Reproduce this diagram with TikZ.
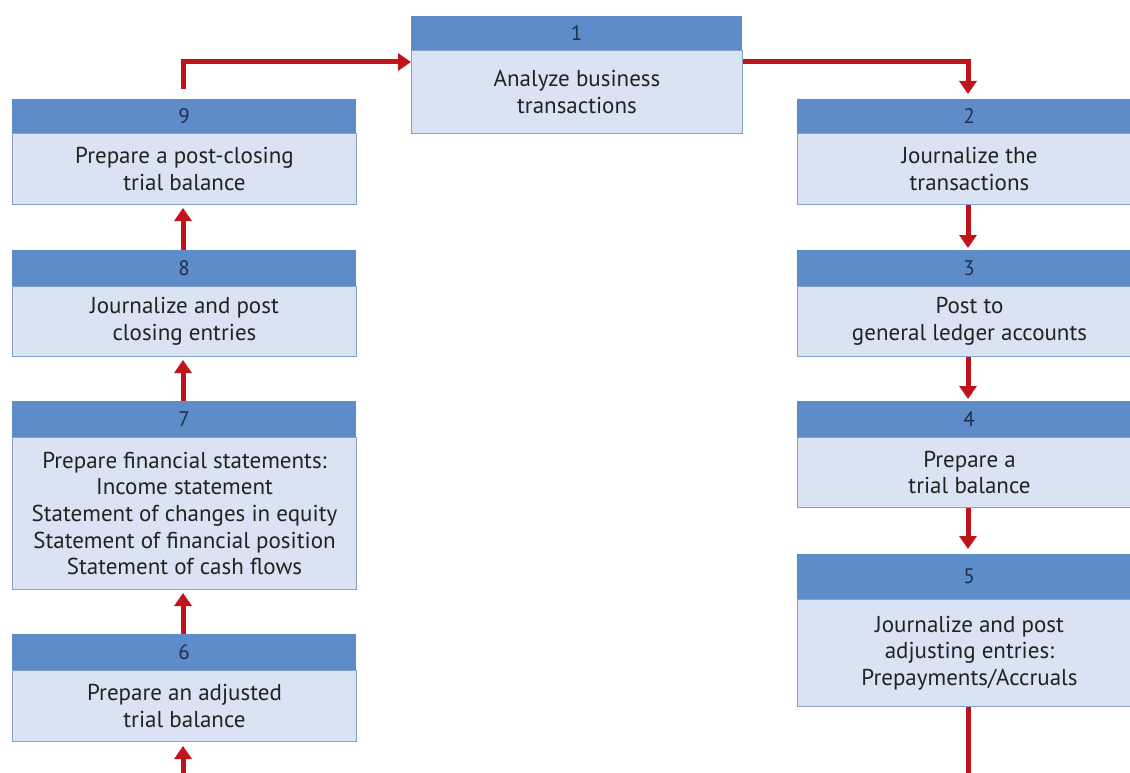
\documentclass[tikz,border=0pt]{standalone}
\usepackage{fontspec}
\setmainfont{PT Sans}
\usetikzlibrary{arrows.meta}
\definecolor{hdrblue}{HTML}{5D8CC8}
\definecolor{bodyblue}{HTML}{D9E3F3}
\definecolor{edgeblue}{HTML}{86A2CB}
\definecolor{numnavy}{HTML}{1E2F4F}
\definecolor{txt}{HTML}{222222}
\definecolor{arrred}{HTML}{C0141C}
\tikzset{
  hdr/.style={fill=hdrblue, draw=none, anchor=north west, inner sep=0pt,
    text=numnavy, font=\fontsize{21}{24}\selectfont},
  bodybox/.style={fill=bodyblue, draw=edgeblue, line width=1pt, anchor=north west,
    inner sep=0pt, align=center, text=txt, font=\fontsize{23}{26.6}\selectfont},
  flow/.style={draw=arrred, line width=5pt, -{Triangle[width=17pt,length=13pt]}}
}
\begin{document}
\begin{tikzpicture}[x=1pt,y=-1pt]
\clip (0,0) rectangle (1130,773);
\fill[white] (0,0) rectangle (1130,773);
% box 1
\node[hdr, minimum width=331pt, minimum height=34pt] (h1) at (411,16) {1};
\node[bodybox, minimum width=331pt, minimum height=83pt] (b1) at (411,50) {Analyze business\\transactions};
% box 9
\node[hdr, minimum width=344pt, minimum height=34pt] (h9) at (12,99) {9};
\node[bodybox, minimum width=344pt, minimum height=71pt] (b9) at (12,133) {Prepare a post-closing\\trial balance};
% box 8
\node[hdr, minimum width=344pt, minimum height=36pt] (h8) at (12,250) {8};
\node[bodybox, minimum width=344pt, minimum height=70pt] (b8) at (12,286) {Journalize and post\\closing entries};
% box 7
\node[hdr, minimum width=344pt, minimum height=36pt] (h7) at (12,401) {7};
\node[bodybox, minimum width=344pt, minimum height=152pt] (b7) at (12,437) {Prepare financial statements:\\Income statement\\Statement of changes in equity\\Statement of financial position\\Statement of cash flows};
% box 6
\node[hdr, minimum width=344pt, minimum height=36pt] (h6) at (12,634) {6};
\node[bodybox, minimum width=344pt, minimum height=71pt] (b6) at (12,670) {Prepare an adjusted\\trial balance};
% box 2
\node[hdr, minimum width=344pt, minimum height=34pt] (h2) at (797,99) {2};
\node[bodybox, minimum width=344pt, minimum height=71pt] (b2) at (797,133) {Journalize the\\transactions};
% box 3
\node[hdr, minimum width=344pt, minimum height=36pt] (h3) at (797,250) {3};
\node[bodybox, minimum width=344pt, minimum height=70pt] (b3) at (797,286) {Post to\\general ledger accounts};
% box 4
\node[hdr, minimum width=344pt, minimum height=36pt] (h4) at (797,401) {4};
\node[bodybox, minimum width=344pt, minimum height=70pt] (b4) at (797,437) {Prepare a\\trial balance};
% box 5
\node[hdr, minimum width=344pt, minimum height=45pt] (h5) at (797,554) {5};
\node[bodybox, minimum width=344pt, minimum height=107pt] (b5) at (797,599) {Journalize and post\\adjusting entries:\\Prepayments/Accruals};
% connectors
\coordinate (c9) at (183,62);
\coordinate (c2) at (968,62);
\coordinate (lowR) at (968,776);
\coordinate (lowL) at (183,776);
\draw[flow, shorten <=10pt] (h9.north -| c9) |- (b1.west |- c9);
\draw[flow, shorten >=5pt] (b1.east |- c2) -| (h2.north -| c2);
\draw[flow, shorten >=2pt] (b2.south -| c2) -- (h3.north -| c2);
\draw[flow, shorten >=2pt] (b3.south -| c2) -- (h4.north -| c2);
\draw[flow, shorten >=5pt] (b4.south -| c2) -- (h5.north -| c2);
\draw[flow, shorten >=3pt] (h8.north -| c9) -- (b9.south -| c9);
\draw[flow, shorten >=3pt] (h7.north -| c9) -- (b8.south -| c9);
\draw[flow, shorten >=3pt] (h6.north -| c9) -- (b7.south -| c9);
\draw[flow, shorten >=4pt] (b5.south -| c2) -- (lowR) -- (lowL) -- (b6.south -| c9);
\end{tikzpicture}
\end{document}
